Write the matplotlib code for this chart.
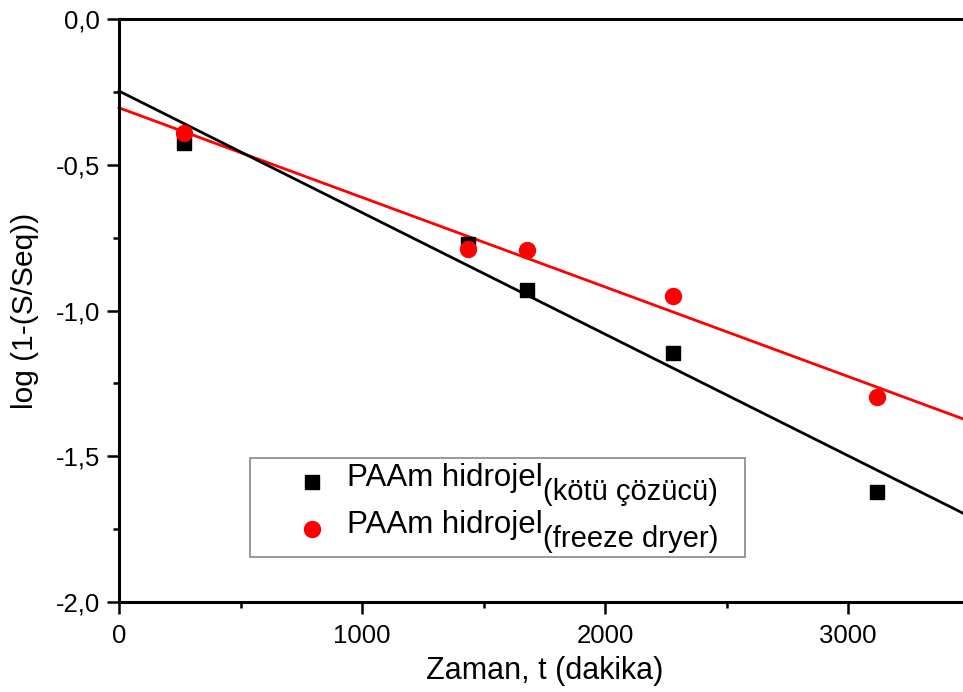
import numpy as np
import matplotlib
matplotlib.use("Agg")
import matplotlib.pyplot as plt
from matplotlib.patches import Rectangle
from matplotlib.lines import Line2D
from matplotlib.ticker import MultipleLocator, FuncFormatter

plt.rcParams['font.family'] = ['Liberation Sans', 'DejaVu Sans']

# Swelling kinetics: time (min) vs log(1 - S/Seq)
t_kotu = [267, 1436, 1679, 2280, 3119]
log_kotu = [-0.426, -0.772, -0.930, -1.146, -1.623]
t_freeze = [267, 1436, 1679, 2280, 3119]
log_freeze = [-0.391, -0.789, -0.793, -0.951, -1.297]

x_ticks = [0, 1000, 2000, 3000]
y_ticks = [0.0, -0.5, -1.0, -1.5, -2.0]
series_main = ["PAAm hidrojel", "PAAm hidrojel"]
series_sub = ["(kötü çözücü)", "(freeze dryer)"]
x_label = "Zaman, t (dakika)"
y_label = "log (1-(S/Seq))"

W, H = 963, 692
fig = plt.figure(figsize=(W / 100, H / 100), dpi=100)
ax = fig.add_axes([119 / W, (H - 602) / H, 850.5 / W, 583 / H])
ax.set_xlim(0, 3500)
ax.set_ylim(-2.0, 0.0)

# linear fits drawn across the whole axis
xfit = np.array(ax.get_xlim())
for t, y, c in [(t_freeze, log_freeze, 'red'), (t_kotu, log_kotu, 'black')]:
    k, b = np.polyfit(t, y, 1)
    ax.plot(xfit, k * xfit + b, color=c, lw=2.0, zorder=2, clip_on=False)

ax.plot(t_kotu, log_kotu, 's', color='black', ms=10, zorder=3, clip_on=False)
ax.plot(t_freeze, log_freeze, 'o', color='red', ms=11.5, zorder=4, clip_on=False)

# axes styling
for side in ['left', 'bottom', 'top']:
    ax.spines[side].set_linewidth(2.2)
ax.spines['right'].set_visible(False)

ax.set_xticks(x_ticks)
ax.set_yticks(y_ticks)
ax.xaxis.set_minor_locator(MultipleLocator(500))
ax.yaxis.set_minor_locator(MultipleLocator(0.25))
ax.yaxis.set_major_formatter(FuncFormatter(lambda v, p: f"{v:.1f}".replace('.', ',')))
ax.xaxis.set_major_formatter(FuncFormatter(lambda v, p: f"{v:.0f}"))
ax.tick_params(which='major', direction='out', length=8.5, width=1.8,
               labelsize=18.5, pad=5, top=False, right=False)
ax.tick_params(axis='x', which='major', pad=7)
ax.tick_params(which='minor', direction='out', length=4.5, width=1.8,
               top=False, right=False)

ax.set_xlabel(x_label, fontsize=22, labelpad=6)
ax.set_ylabel(y_label, fontsize=21.5, labelpad=12)

# legend box with subscripted labels
frame = Rectangle((0.154, 0.0772), 0.582, 0.1698, transform=ax.transAxes,
                  facecolor='white', edgecolor='#888888', lw=1.2, zorder=5)
ax.add_patch(frame)
rows = [('s', 'black', 10, 0.2058, 0.1990), ('o', 'red', 11.5, 0.1252, 0.1183)]
for (mk, c, ms, ym, yb), main, sub in zip(rows, series_main, series_sub):
    ax.add_line(Line2D([0.2269], [ym], marker=mk, color=c, ms=ms, ls='none',
                       transform=ax.transAxes, zorder=6))
    mt = ax.text(0.2681, yb, main, transform=ax.transAxes, fontsize=22.5,
                 va='baseline', ha='left', zorder=6)
    ax.annotate(sub, xy=(1, yb), xycoords=(mt, ax.transAxes),
                xytext=(0.5, -10), textcoords='offset points',
                fontsize=21, va='baseline', ha='left', zorder=6)

fig.savefig("out.png", dpi=100)
